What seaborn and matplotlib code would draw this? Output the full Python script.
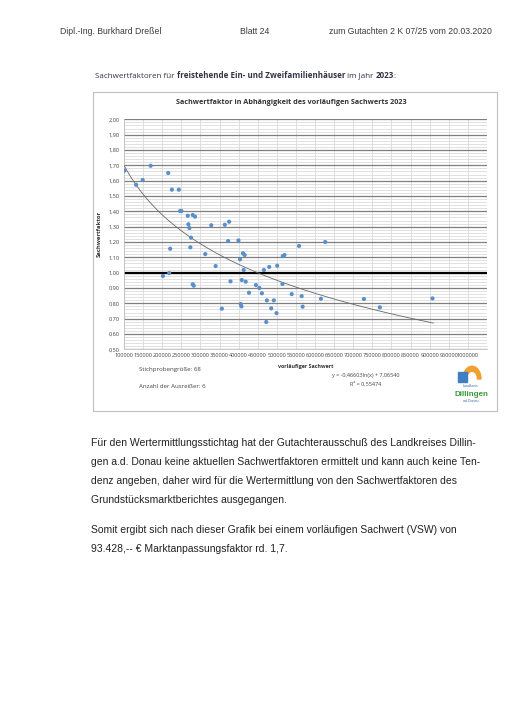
import numpy as np
import pandas as pd
import matplotlib
matplotlib.use("Agg")
import matplotlib.pyplot as plt
import seaborn as sns
from matplotlib.ticker import MultipleLocator, FuncFormatter
from matplotlib.patches import Rectangle, Wedge

# ---- data ----
vsw = [101000, 169700, 131700, 148900, 215700, 225300, 243500, 246900, 250300,
       266900, 279900, 285900, 268500, 271100, 328300, 363900, 375100, 275500,
       220900, 273700, 312700, 372500, 399500, 201900, 218300, 279900, 282500,
       339800, 378700, 356100, 558100, 626500, 411500, 415900, 403700, 515600,
       519900, 500900, 480100, 466100, 413300, 408100, 418500, 427100, 445300,
       454100, 460900, 514700, 538900, 564900, 615300, 473900, 492100, 405500,
       407300, 485300, 567500, 499100, 472300, 727900, 769500, 907300]
faktor = [1.665, 1.697, 1.573, 1.604, 1.650, 1.541, 1.541, 1.402, 1.402,
          1.371, 1.376, 1.365, 1.315, 1.291, 1.309, 1.312, 1.332, 1.228,
          1.156, 1.165, 1.121, 1.206, 1.210, 0.978, 0.997, 0.924, 0.915,
          1.043, 0.943, 0.765, 1.174, 1.200, 1.126, 1.115, 1.087, 1.108,
          1.115, 1.045, 1.037, 1.017, 1.017, 0.952, 0.941, 0.869, 0.919,
          0.900, 0.865, 0.926, 0.860, 0.847, 0.830, 0.819, 0.819, 0.795,
          0.780, 0.767, 0.778, 0.736, 0.678, 0.828, 0.774, 0.832]
trend_a = -0.46603
trend_b = 7.06540
trend_range = [100000, 910000]
x_ticks = list(range(100000, 1000001, 50000))
y_ticks = [0.5, 0.6, 0.7, 0.8, 0.9, 1.0, 1.1, 1.2, 1.3, 1.4, 1.5, 1.6, 1.7, 1.8, 1.9, 2.0]

df = pd.DataFrame({"vsw": vsw, "faktor": faktor})
tx = np.linspace(trend_range[0], trend_range[1], 200)
trend = pd.DataFrame({"vsw": tx, "faktor": trend_a * np.log(tx) + trend_b})

sns.set_theme(style="white")
plt.rcParams["font.family"] = ["Liberation Sans", "DejaVu Sans"]

W, H = 509, 720
fig = plt.figure(figsize=(W / 100, H / 100), dpi=100)
fig.patch.set_facecolor("white")

def fx(px):
    return px / W

def fy(py):
    return 1 - py / H

CAL = ["Open Sans", "DejaVu Sans"]

# ---- page header ----
hdr = dict(fontsize=6.2, color="#3a3a3a", va="center", family=["Liberation Sans"])
fig.text(fx(60), fy(31), "Dipl.-Ing. Burkhard Dreßel", ha="left", **hdr)
fig.text(fx(255), fy(31), "Blatt 24", ha="center", **hdr)
fig.text(fx(492), fy(31), "zum Gutachten 2 K 07/25 vom 20.03.2020", ha="right", **hdr)

# ---- subtitle with mixed weights ----
parts = [("Sachwertfaktoren für ", "normal"),
         ("freistehende Ein- und Zweifamilienhäuser", "bold"),
         (" im Jahr ", "normal"), ("2023", "bold"), (":", "normal")]
fig.canvas.draw()
renderer = fig.canvas.get_renderer()
xpos = 95
for s, w in parts:
    t = fig.text(fx(xpos), fy(76), s, fontsize=5.8, fontweight=w, color="#333344",
                 va="center", ha="left", family=CAL)
    bb = t.get_window_extent(renderer=renderer)
    xpos += bb.width

# ---- chart frame ----
fig.patches.append(Rectangle((fx(93), fy(411)), fx(497) - fx(93), fy(92) - fy(411),
                             transform=fig.transFigure, fill=False,
                             edgecolor="#bfbfbf", linewidth=0.8))

# ---- axes ----
left, right, top, bottom = 124, 487, 119.3, 349.3
ax = fig.add_axes([fx(left), fy(bottom), fx(right) - fx(left), fy(top) - fy(bottom)])
ax.set_xlim(100000, 1050000)
ax.set_ylim(0.5, 2.0)

ax.yaxis.set_minor_locator(MultipleLocator(0.02))
ax.set_yticks(y_ticks)
ax.set_xticks(x_ticks)
ax.grid(which="minor", axis="y", color="#dcdcdc", linewidth=0.6)
ax.grid(which="major", axis="y", color="#7f7f7f", linewidth=0.9)
ax.grid(which="major", axis="x", color="#d9d9d9", linewidth=0.6)
ax.axhline(1.0, color="black", linewidth=1.6, zorder=2)
ax.set_axisbelow(True)

sns.lineplot(data=trend, x="vsw", y="faktor", ax=ax, color="#666666",
             linewidth=0.6, zorder=3)
sns.scatterplot(data=df, x="vsw", y="faktor", ax=ax, color="#5b8fc9",
                s=9, edgecolor="none", zorder=4)

ax.yaxis.set_major_formatter(FuncFormatter(lambda v, p: f"{v:.2f}".replace(".", ",")))
ax.xaxis.set_major_formatter(FuncFormatter(lambda v, p: f"{int(v)}"))
ax.tick_params(axis="both", labelsize=4.1, colors="#444444", length=0, pad=3)
for lab in ax.get_xticklabels() + ax.get_yticklabels():
    lab.set_family(CAL)
for sp in ["top", "right"]:
    ax.spines[sp].set_visible(False)
ax.spines["left"].set_color("#bfbfbf")
ax.spines["left"].set_linewidth(0.6)
ax.spines["bottom"].set_color("#bfbfbf")
ax.spines["bottom"].set_linewidth(0.6)

ax.set_xlabel("vorläufiger Sachwert", fontsize=3.9, fontweight="bold",
              color="#333333", labelpad=4, family=CAL)
ax.set_ylabel("Sachwertfaktor", fontsize=4.2, fontweight="bold",
              color="#333333", labelpad=5, family=CAL)

# ---- chart title ----
fig.text(fx(291), fy(103), "Sachwertfaktor in Abhängigkeit des vorläufigen Sachwerts 2023",
         fontsize=5.2, fontweight="bold", color="#333333", ha="center", va="center",
         family=CAL)

# ---- annotations in chart ----
an = dict(fontsize=4.4, color="#444444", va="center", ha="left", family=CAL)
fig.text(fx(139), fy(370), "Stichprobengröße: 68", **an)
fig.text(fx(139), fy(387), "Anzahl der Ausreißer: 6", **an)
eq = dict(fontsize=4.0, color="#444444", va="center", ha="center", family=CAL)
fig.text(fx(366), fy(376), "y = -0,46603ln(x) + 7,06540", **eq)
fig.text(fx(366), fy(384), "R² = 0,55474", **eq)

# ---- logo (simplified) ----
fig.patches.append(Wedge((fx(472), fy(379)), fx(9), 0, 180, width=fx(3.5),
                         transform=fig.transFigure, color="#f0a030"))
fig.patches.append(Rectangle((fx(458), fy(382)), fx(9), fy(372) - fy(382),
                             transform=fig.transFigure, color="#3d7fc0"))
fig.text(fx(471), fy(386), "Landkreis", fontsize=2.6, color="#3d6fa8", ha="center", va="center")
fig.text(fx(471), fy(394), "Dillingen", fontsize=5.8, fontweight="bold", color="#3a9a3a",
         ha="center", va="center")
fig.text(fx(471), fy(401), "a.d.Donau", fontsize=2.6, color="#3d6fa8", ha="center", va="center")

# ---- body text ----
body = dict(fontsize=7.5, color="#222222", va="center", ha="left", family=["Liberation Sans"])
lines = [(443, "Für den Wertermittlungsstichtag hat der Gutachterausschuß des Landkreises Dillin-"),
         (462, "gen a.d. Donau keine aktuellen Sachwertfaktoren ermittelt und kann auch keine Ten-"),
         (481, "denz angeben, daher wird für die Wertermittlung von den Sachwertfaktoren des"),
         (500, "Grundstücksmarktberichtes ausgegangen."),
         (530, "Somit ergibt sich nach dieser Grafik bei einem vorläufigen Sachwert (VSW) von"),
         (549, "93.428,-- € Marktanpassungsfaktor rd. 1,7.")]
for yy, s in lines:
    fig.text(fx(91), fy(yy), s, **body)

fig.savefig("out.png", dpi=100)
